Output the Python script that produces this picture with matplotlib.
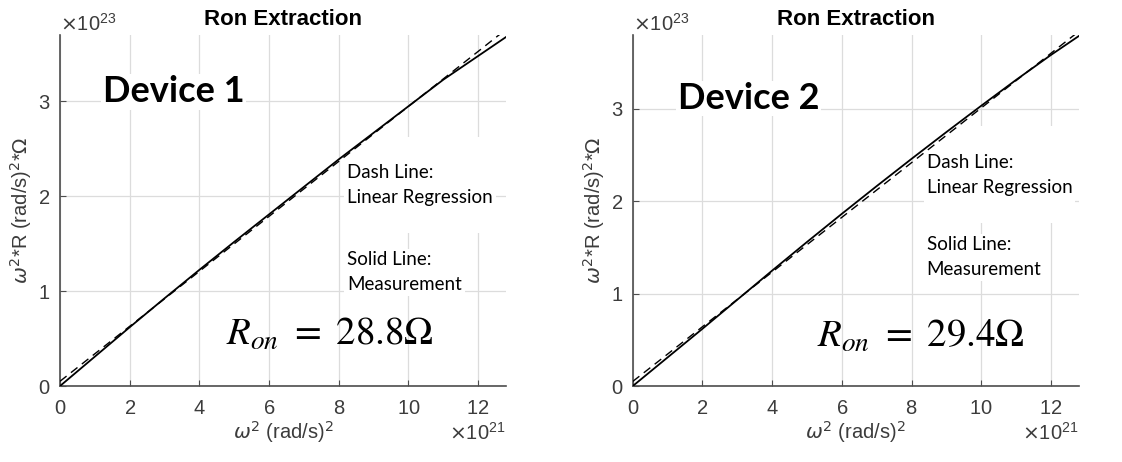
import numpy as np
import matplotlib
matplotlib.use("Agg")
import matplotlib.pyplot as plt
from matplotlib.ticker import ScalarFormatter

# omega^2 in units of 1e21 (rad/s)^2, omega^2*R in units of 1e23
w2 = [0, 1, 2, 3, 4, 5, 6, 7, 8, 9, 10, 11, 12, 12.8]
meas1 = [0.00, 0.31, 0.62, 0.925, 1.225, 1.52, 1.81, 2.10, 2.39, 2.67, 2.95, 3.23, 3.48, 3.68]
meas2 = [0.00, 0.31, 0.62, 0.935, 1.25, 1.56, 1.865, 2.165, 2.46, 2.75, 3.035, 3.315, 3.585, 3.79]

# linear regression lines (end points)
reg_x = [0, 12.8]
reg1 = [0.05, 3.76]
reg2 = [0.05, 3.84]

devices = ["Device 1", "Device 2"]
ron_labels = [r"$R_{on}\ =\ 28.8\Omega$", r"$R_{on}\ =\ 29.4\Omega$"]
ymax = [3.7, 3.8]
xticks = [0, 2, 4, 6, 8, 10, 12]
yticks = [0, 1, 2, 3]

GRAY = "#3c3c3c"
plt.rcParams["font.family"] = ["Liberation Sans", "DejaVu Sans"]

fig = plt.figure(figsize=(11.22, 4.62), dpi=100)
axes = [fig.add_axes([0.0535, 0.1645, 0.3975, 0.7595]),
        fig.add_axes([0.564, 0.1645, 0.3975, 0.7595])]

text_pos = [dict(dev=(1.23, 2.99), dash=(8.24, 2.6), solid=(8.24, 1.42), ron=(4.75, 0.43)),
            dict(dev=(1.29, 3.0), dash=(8.43, 2.78), solid=(8.43, 1.62), ron=(5.3, 0.42))]

for i, ax in enumerate(axes):
    meas = [meas1, meas2][i]
    reg = [reg1, reg2][i]
    xs = np.array(w2) * 1e21
    ax.plot(xs, np.array(meas) * 1e23, color="black", lw=1.3, zorder=3)
    ax.plot(np.array(reg_x) * 1e21, np.array(reg) * 1e23, color="black", lw=1.0,
            ls=(0, (6, 4)), zorder=3)

    ax.set_xlim(0, 12.8e21)
    ax.set_ylim(0, ymax[i] * 1e23)
    ax.set_xticks(np.array(xticks) * 1e21)
    ax.set_yticks(np.array(yticks) * 1e23)
    for a in (ax.xaxis, ax.yaxis):
        a.set_major_formatter(ScalarFormatter(useMathText=True))
    ax.ticklabel_format(axis="x", style="sci", scilimits=(21, 21))
    ax.ticklabel_format(axis="y", style="sci", scilimits=(23, 23))
    for a in (ax.xaxis, ax.yaxis):
        a.get_offset_text().set_fontsize(14.5)
        a.get_offset_text().set_color(GRAY)

    ax.grid(True, color="#dcdcdc", lw=0.9)
    ax.set_axisbelow(True)
    for s in ("top", "right"):
        ax.spines[s].set_visible(False)
    for s in ("left", "bottom"):
        ax.spines[s].set_color("#4d4d4d")
        ax.spines[s].set_linewidth(1.2)
    ax.tick_params(direction="in", length=4, color="#4d4d4d", labelsize=14.5,
                   labelcolor=GRAY)
    ax.tick_params(axis="x", pad=9)
    ax.tick_params(axis="y", pad=7)

    ax.set_title("Ron Extraction", fontsize=16, fontweight="bold", pad=7)
    ax.set_xlabel(r"$\omega^2$ (rad/s)$^2$", fontsize=14.5, color=GRAY, labelpad=1)
    ax.set_ylabel(r"$\omega^2$*R (rad/s)$^2$*$\Omega$", fontsize=14.5, color=GRAY,
                  labelpad=3)

    p = text_pos[i]
    ax.text(p["dev"][0] * 1e21, p["dev"][1] * 1e23, devices[i], fontsize=26,
            fontweight="bold", family="Lato", zorder=1.5,
            bbox=dict(facecolor="white", edgecolor="none", pad=1))
    ax.text(p["dash"][0] * 1e21, p["dash"][1] * 1e23, "\nDash Line:\nLinear Regression\n",
            fontsize=13.5, family="Lato", va="top", linespacing=1.55, zorder=1.5,
            bbox=dict(facecolor="white", edgecolor="none", pad=2))
    ax.text(p["solid"][0] * 1e21, p["solid"][1] * 1e23, "Solid Line:\nMeasurement",
            fontsize=13.5, family="Lato", va="top", linespacing=1.55, zorder=1.5,
            bbox=dict(facecolor="white", edgecolor="none", pad=2))
    ax.text(p["ron"][0] * 1e21, p["ron"][1] * 1e23, ron_labels[i], fontsize=28,
            math_fontfamily="stix", zorder=1.5)

fig.savefig("out.png", dpi=100)
